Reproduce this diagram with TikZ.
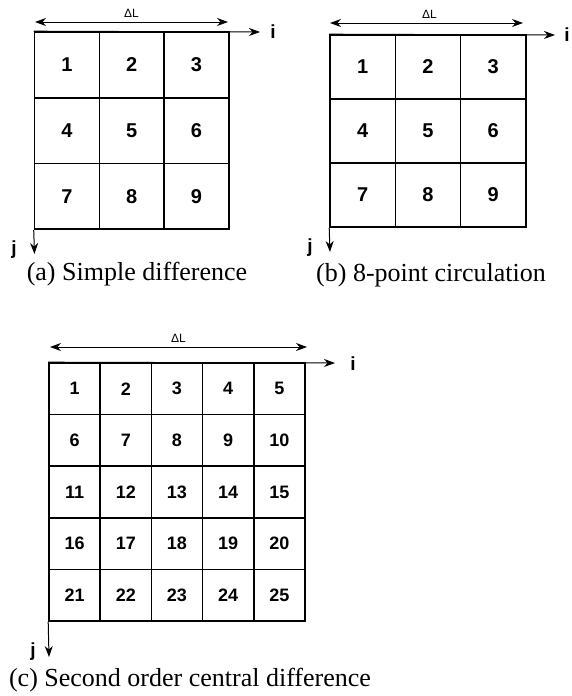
\documentclass[tikz,border=0pt]{standalone}
\usepackage{fontspec}
\setmainfont{Liberation Serif}
\setsansfont{Liberation Sans}
\usetikzlibrary{arrows.meta}

\begin{document}
\begin{tikzpicture}[x=1pt, y=-1pt, >={Stealth[length=11pt,width=8pt]},
  cell/.style={draw, line width=1.6pt, inner sep=0pt, font=\sffamily\bfseries\fontsize{20}{20}\selectfont},
  span/.style={<->, line width=1pt},
  axis/.style={->, line width=1pt},
  dl/.style={inner sep=0pt, font=\sffamily\fontsize{12}{12}\selectfont},
  ax/.style={inner sep=0pt, font=\sffamily\bfseries\fontsize{19}{19}\selectfont},
  legend/.style={inner sep=0pt, font=\fontsize{26}{26}\selectfont}]
\useasboundingbox (0,0) rectangle (571,696);
% (a) simple difference
\foreach \n in {1,...,9} {
  \pgfmathtruncatemacro\col{mod(\n-1,3)}\pgfmathtruncatemacro\row{div(\n-1,3)}
  \node[cell, minimum width=64.8pt, minimum height=65.7pt] (a\n) at ({34.5+64.8*(\col+0.5)},{32+65.7*(\row+0.5)}) {\n};
}
\coordinate (aL1) at (35,22); \coordinate (aL2) at (228,22);
\coordinate (ai) at (260,32); \coordinate (aj) at (34.5,254);
\draw[span] (aL1) -- node[dl, above=4pt] {ΔL} (aL2);
\draw[axis] (a1.north west) -- (ai); \draw[axis] (a7.south west) -- (aj);
\node[ax] (ailab) at (273,32) {i};
\node[ax] (ajlab) at (14,250) {j};
\node[legend] (acap) at (137,274) {(a) Simple difference};
% (b) 8-point circulation
\foreach \n in {1,...,9} {
  \pgfmathtruncatemacro\col{mod(\n-1,3)}\pgfmathtruncatemacro\row{div(\n-1,3)}
  \node[cell, minimum width=65.3pt, minimum height=64pt] (b\n) at ({330+65.3*(\col+0.5)},{35+64*(\row+0.5)}) {\n};
}
\coordinate (bL1) at (330,23); \coordinate (bL2) at (523,23);
\coordinate (bi) at (555,35); \coordinate (bj) at (330,252);
\draw[span] (bL1) -- node[dl, above=4pt, xshift=3pt] {ΔL} (bL2);
\draw[axis] (b1.north west) -- (bi); \draw[axis] (b7.south west) -- (bj);
\node[ax] (bilab) at (567,35) {i};
\node[ax] (bjlab) at (310,248) {j};
\node[legend] (bcap) at (431,275) {(b) 8-point circulation};
% (c) second order central difference
\foreach \n in {1,...,25} {
  \pgfmathtruncatemacro\col{mod(\n-1,5)}\pgfmathtruncatemacro\row{div(\n-1,5)}
  \node[cell, minimum width=51.2pt, minimum height=51.6pt, font=\sffamily\bfseries\fontsize{18}{18}\selectfont] (c\n) at ({49+51.2*(\col+0.5)},{363+51.6*(\row+0.5)}) {\n};
}
\coordinate (cL1) at (50,347); \coordinate (cL2) at (307,347);
\coordinate (ci) at (335,363); \coordinate (cj) at (49,657);
\draw[span] (cL1) -- node[dl, above=4pt] {ΔL} (cL2);
\draw[axis] (c1.north west) -- (ci); \draw[axis] (c21.south west) -- (cj);
\node[ax] (cilab) at (353,364) {i};
\node[ax] (cjlab) at (33,652) {j};
\node[legend] (ccap) at (190,680) {(c) Second order central difference};
\end{tikzpicture}
\end{document}
